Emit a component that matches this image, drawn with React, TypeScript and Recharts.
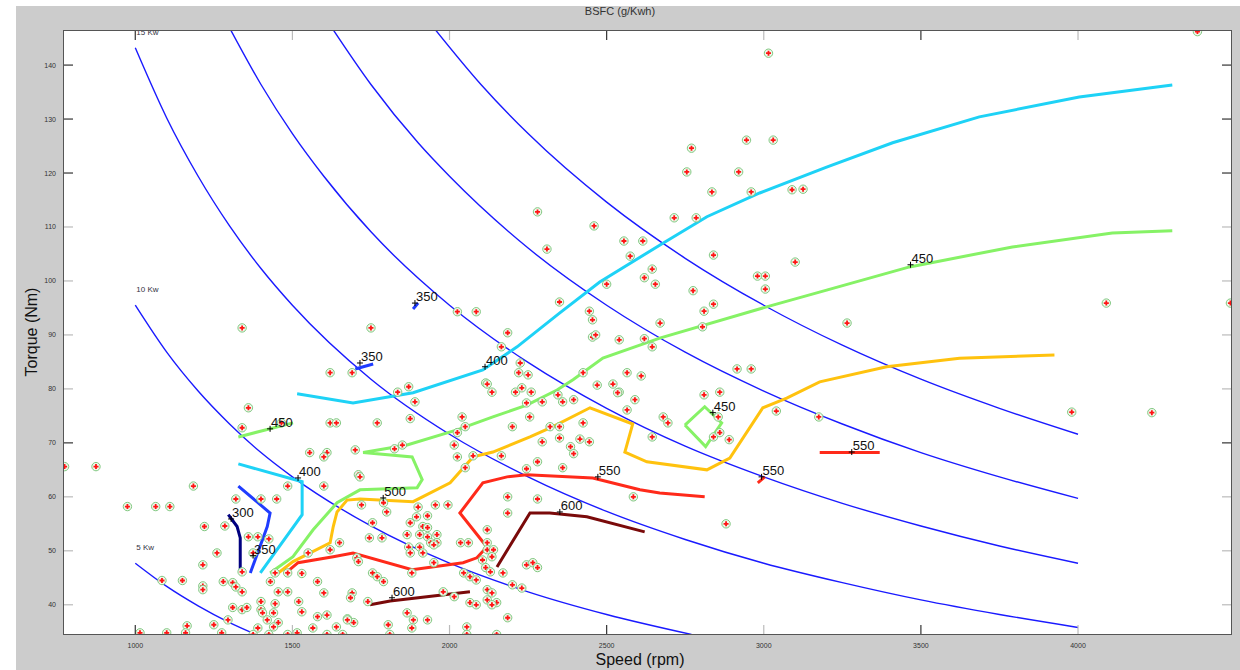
import React from 'react'
import { ComposedChart, Line, Scatter, XAxis, YAxis, ReferenceDot } from 'recharts'

type Pt = [number, number]

const rpmTicks = [1000, 1500, 2000, 2500, 3000, 3500, 4000]
const torqueTicks = [40, 50, 60, 70, 80, 90, 100, 110, 120, 130, 140]
const darkRpmTicks = [1000, 2500, 3500]
const darkTorqueTicks = [140, 130, 120, 70]

// constant power curves (rpm, Nm)
const kw5: Pt[] = [[1000, 47.7], [1100, 43.4], [1200, 39.8], [1300, 36.7], [1380, 34.6]]
const kw10: Pt[] = [[1000, 95.5], [1100, 86.8], [1200, 79.6], [1300, 73.5], [1400, 68.2], [1500, 63.7], [1750, 54.6], [2000, 47.7], [2250, 42.4], [2500, 38.2], [2770, 34.5]]
const kw15: Pt[] = [[1000, 143.2], [1100, 130.2], [1200, 119.4], [1300, 110.2], [1400, 102.3], [1500, 95.5], [1750, 81.8], [2000, 71.6], [2250, 63.7], [2500, 57.3], [2750, 52.1], [3000, 47.7], [3250, 44.1], [3500, 40.9], [3750, 38.2], [4000, 35.8]]
const kw20: Pt[] = [[1300, 146.9], [1400, 136.4], [1500, 127.3], [1600, 119.4], [1750, 109.1], [2000, 95.5], [2250, 84.9], [2500, 76.4], [2750, 69.4], [3000, 63.7], [3250, 58.8], [3500, 54.6], [3750, 50.9], [4000, 47.7]]
const kw25: Pt[] = [[1620, 147.4], [1750, 136.4], [1900, 125.6], [2000, 119.4], [2250, 106.1], [2500, 95.5], [2750, 86.8], [3000, 79.6], [3250, 73.5], [3500, 68.2], [3750, 63.7], [4000, 59.7]]
const kw30: Pt[] = [[1950, 146.9], [2100, 136.4], [2250, 127.3], [2500, 114.6], [2750, 104.2], [3000, 95.5], [3250, 88.1], [3500, 81.8], [3750, 76.4], [4000, 71.6]]

// BSFC contours
const bsfc300: Pt[] = [[1296, 56.7], [1324, 54.5], [1334, 52.4], [1334, 46.1]]
const bsfc350a: Pt[] = [[1328, 62.0], [1429, 57.0], [1420, 54.5], [1366, 45.9]]
const bsfc350b: Pt[] = [[1700, 83.7], [1757, 84.6]]
const bsfc350c: Pt[] = [[1884, 94.8], [1900, 95.9]]
const bsfc400a: Pt[] = [[1515, 79.1], [1693, 77.4], [1884, 79.3], [2106, 83.5], [2215, 87.8], [2351, 94.1], [2478, 99.8], [2679, 107.0], [2819, 111.9], [2987, 116.3], [3200, 121.1], [3410, 125.6], [3686, 130.4], [4004, 134.1], [4300, 136.3]]
const bsfc400b: Pt[] = [[1328, 66.1], [1531, 62.8], [1531, 56.7], [1398, 45.9]]
const bsfc450a: Pt[] = [[1429, 45.9], [1502, 48.9], [1566, 53.9], [1642, 58.9], [1715, 61.3], [1897, 61.7], [1913, 63.2], [1881, 67.4], [1725, 68.2], [1865, 69.6], [2024, 72.4], [2138, 74.8], [2246, 77.0], [2342, 79.8], [2393, 81.7], [2488, 85.7], [2669, 89.4], [3009, 95.2], [3200, 98.3], [3464, 102.6], [3791, 106.3], [4109, 108.9], [4300, 109.3]]
const bsfc450b: Pt[] = [[1328, 71.1], [1502, 73.7]]
const bsfc450c: Pt[] = [[2749, 73.3], [2812, 76.7], [2866, 73.7], [2815, 69.3], [2749, 73.3]]
const bsfc500: Pt[] = [[1455, 45.9], [1502, 48.0], [1620, 51.5], [1630, 54.5], [1642, 57.2], [1674, 59.4], [1715, 59.6], [1884, 59.1], [2002, 62.6], [2075, 67.4], [2138, 68.3], [2256, 71.1], [2329, 73.0], [2447, 76.5], [2583, 73.5], [2558, 68.3], [2628, 66.5], [2819, 65.0], [2892, 67.2], [2997, 76.5], [3073, 78.3], [3178, 81.3], [3391, 84.1], [3623, 85.7], [3925, 86.3]]
const bsfc550a: Pt[] = [[1483, 46.1], [1518, 47.8], [1630, 48.9], [1693, 49.6], [1881, 46.5], [2043, 47.8], [2087, 48.7], [2119, 50.7], [2033, 57.0], [2106, 62.6], [2183, 63.7], [2246, 64.1], [2456, 63.5], [2606, 61.3], [2669, 60.7], [2812, 60.0]]
const bsfc550b: Pt[] = [[2981, 62.6], [3003, 63.7]]
const bsfc550c: Pt[] = [[3178, 68.2], [3369, 68.2]]
const bsfc600a: Pt[] = [[2151, 47.0], [2256, 57.0], [2319, 57.0], [2437, 56.3], [2621, 53.5]]
const bsfc600b: Pt[] = [[1747, 40.0], [1811, 40.7], [2065, 42.4]]

const contourLabels: Array<[number, number, string]> = [
  [1305, 55.9, '300'], [1375, 49.1, '350'], [1518, 63.5, '400'], [1429, 72.6, '450'],
  [1715, 84.8, '350'], [1890, 95.9, '350'], [2113, 84.1, '400'], [1789, 59.8, '500'],
  [2472, 63.7, '550'], [2351, 57.2, '600'], [1817, 41.3, '600'], [2838, 75.6, '450'],
  [2993, 63.7, '550'], [3280, 68.3, '550'], [3467, 103.0, '450'],
]

const powerLabels: Array<[number, number, string]> = [
  [1000, 143.2, '15 Kw'], [1000, 95.5, '10 Kw'], [1000, 47.7, '5 Kw'],
]

// measured operating points (rpm, Nm)
const points: Pt[] = [
  [4380, 146.2], [3015, 142.2], [2770, 124.6], [2945, 126.1], [3030, 126.1], [2755, 120.2], [2920, 120.2], [2835, 116.5], [2960, 116.5], [3090, 116.9],
  [3125, 117.0], [2715, 111.7], [2785, 111.7], [2460, 110.2], [2555, 107.4], [2615, 107.4], [2575, 104.6], [2840, 104.8], [3100, 103.5], [2645, 102.2],
  [2620, 100.6], [2655, 99.4], [2500, 99.4], [2980, 100.9], [3005, 100.9], [3005, 98.5], [2775, 98.2], [2840, 95.7], [2810, 94.4], [2350, 96.1],
  [2445, 94.4], [2455, 92.8], [2670, 92.2], [2805, 91.5], [3265, 92.2], [2455, 89.6], [2540, 89.1], [2620, 89.3], [2645, 87.8], [2280, 112.8],
  [2310, 105.9], [2025, 94.3], [2085, 94.3], [1340, 91.3], [1750, 91.3], [2185, 90.4], [2465, 90.0], [2165, 87.8], [2225, 84.8], [1620, 83.0],
  [1690, 83.0], [2220, 83.0], [2250, 82.6], [2115, 81.1], [2135, 79.4], [2210, 79.4], [2230, 80.2], [2260, 79.4], [2345, 78.9], [2395, 78.0],
  [2360, 77.6], [2425, 83.0], [2470, 80.7], [1835, 79.4], [1870, 80.4], [1890, 77.6], [2245, 77.4], [2295, 77.6], [2040, 74.8], [2255, 74.8],
  [1875, 74.5], [2915, 83.7], [2960, 83.7], [2565, 83.0], [2610, 82.4], [2540, 79.4], [2590, 78.0], [2565, 76.1], [2680, 74.8], [2695, 73.7],
  [2645, 71.1], [2810, 78.9], [2860, 79.4], [2855, 74.8], [2840, 71.1], [2860, 71.9], [2890, 70.6], [3040, 75.9], [3175, 74.8], [2585, 60.0],
  [2880, 55.0], [3980, 75.7], [4235, 75.6], [4090, 95.9], [4485, 95.9],
  [1360, 76.5], [1340, 72.8], [1465, 73.7], [1620, 73.7], [1640, 73.7], [1555, 68.2], [1610, 68.2], [1600, 67.4], [1700, 68.7], [1485, 62.0],
  [1600, 62.0], [1710, 64.1], [775, 65.6], [875, 65.6], [1185, 62.0], [1320, 59.6], [1400, 59.6], [1450, 59.6], [975, 58.2], [1065, 58.2],
  [1110, 58.2], [1220, 54.5], [1285, 54.6], [1360, 52.6], [1390, 52.6], [1425, 52.2], [1260, 49.6], [1375, 49.6], [1650, 51.5], [1620, 50.2],
  [1550, 49.6], [1705, 48.7], [1215, 47.4], [1340, 46.1], [1445, 45.9], [1485, 45.9], [1530, 45.8], [1085, 44.5], [1150, 44.5], [1215, 43.5],
  [1215, 42.8], [1280, 44.3], [1310, 44.1], [1320, 43.3], [1340, 42.4], [1430, 44.3], [1455, 42.4], [1485, 42.4], [1580, 44.3], [1600, 42.2],
  [1690, 42.2], [1400, 40.6], [1310, 39.5], [1340, 39.1], [1355, 39.5], [1400, 39.1], [1445, 40.2], [1520, 40.6], [1295, 37.2], [1405, 38.5],
  [1420, 37.2], [1440, 38.5], [1455, 36.7], [1530, 38.7], [1580, 37.8], [1610, 38.1], [1675, 37.4], [1250, 36.3], [1165, 36.1], [1390, 35.7],
  [1440, 35.9], [1515, 34.8], [1565, 35.7], [1640, 35.9], [1695, 36.7], [1015, 34.8], [1100, 34.8], [1160, 34.8], [1275, 34.8], [1375, 34.5],
  [1425, 34.5], [1485, 34.5], [1610, 34.5], [1660, 34.5],
  [2120, 80.9], [2520, 80.9], [2535, 79.3], [1770, 73.7], [2050, 73.0], [2200, 73.0], [2320, 73.0], [2350, 73.0], [2425, 73.7], [2295, 70.2],
  [2350, 70.9], [2415, 70.7], [2445, 70.2], [2385, 69.3], [2395, 68.0], [1825, 68.9], [1850, 69.6], [2025, 71.9], [2015, 69.6], [2025, 67.4],
  [2075, 67.6], [2165, 67.6], [2280, 66.5], [2360, 65.4], [2245, 65.2], [2050, 65.4], [1715, 63.7], [2185, 60.0], [2280, 59.6], [1720, 58.5],
  [1790, 58.9], [1800, 57.2], [1900, 58.1], [1955, 58.5], [1995, 58.5], [2185, 57.0], [1755, 55.2], [1875, 55.2], [1895, 56.3], [1930, 56.5],
  [1915, 54.5], [1930, 54.3], [1865, 53.0], [1905, 53.0], [1930, 52.6], [1745, 52.4], [1785, 52.4], [1960, 53.0], [1960, 51.5], [1940, 51.5],
  [1870, 50.7], [1905, 50.7], [1950, 51.1], [1875, 49.6], [1915, 49.6], [1710, 48.0], [1950, 47.8], [2035, 51.5], [2060, 51.5], [2120, 53.9],
  [2120, 51.5], [2120, 50.2], [2140, 50.2], [2135, 48.9], [2105, 48.3], [2115, 46.9], [2130, 46.1], [2170, 45.9], [2045, 45.9], [2065, 45.2],
  [2085, 44.6], [2245, 47.4], [2265, 47.8], [2280, 46.9], [2200, 43.7], [2230, 43.1], [1755, 45.9], [1770, 45.2], [1790, 44.3], [1880, 45.9],
  [1685, 41.3], [1980, 42.4], [2015, 41.5], [2120, 42.8], [2135, 42.2], [2120, 40.9], [2150, 40.4], [2135, 40.0], [1740, 40.6], [2065, 40.4],
  [2085, 40.0], [1865, 38.5], [1885, 37.2], [1930, 37.2], [2185, 37.6], [1675, 37.2], [1805, 36.3], [1880, 35.7], [2055, 35.9], [1810, 34.5],
  [2055, 34.5], [2150, 34.5],
]

const PLOT = { left: 63, top: 30, right: 1232, bottom: 635 }

const rows = (pts: Pt[]) => pts.map(([rpm, torque]) => ({ rpm, torque }))

const powerCurves = [kw5, kw10, kw15, kw20, kw25, kw30]

const contours: Array<{ pts: Pt[]; color: string; width?: number }> = [
  { pts: bsfc300, color: '#000080' },
  { pts: bsfc350a, color: '#1f3cff' },
  { pts: bsfc350b, color: '#1f3cff' },
  { pts: bsfc350c, color: '#1f3cff' },
  { pts: bsfc400a, color: '#1ed2f6' },
  { pts: bsfc400b, color: '#1ed2f6' },
  { pts: bsfc450a, color: '#86f266' },
  { pts: bsfc450b, color: '#86f266' },
  { pts: bsfc450c, color: '#86f266' },
  { pts: bsfc500, color: '#ffc20e' },
  { pts: bsfc550a, color: '#ff2a1a' },
  { pts: bsfc550b, color: '#ff2a1a' },
  { pts: bsfc550c, color: '#ff2a1a' },
  { pts: bsfc600a, color: '#7a0a0a' },
  { pts: bsfc600b, color: '#7a0a0a' },
]

function XTick(props: any) {
  const { x, payload } = props
  const c = darkRpmTicks.includes(payload.value) ? '#333' : '#bbb'
  return (
    <g>
      <line x1={x} y1={PLOT.bottom} x2={x} y2={PLOT.bottom - 10} stroke={c} strokeWidth={1.2} />
      <line x1={x} y1={PLOT.top} x2={x} y2={PLOT.top + 10} stroke={c} strokeWidth={1.2} />
      <text x={x} y={648} textAnchor="middle" fontSize={7} fill="#333">{payload.value}</text>
    </g>
  )
}

function YTick(props: any) {
  const { y, payload } = props
  const c = darkTorqueTicks.includes(payload.value) ? '#333' : '#bbb'
  return (
    <g>
      <line x1={PLOT.left} y1={y} x2={PLOT.left + 10} y2={y} stroke={c} strokeWidth={1.2} />
      <line x1={PLOT.right} y1={y} x2={PLOT.right - 10} y2={y} stroke={c} strokeWidth={1.2} />
      <text x={56} y={y + 2.5} textAnchor="end" fontSize={7} fill="#333">{payload.value}</text>
    </g>
  )
}

function Marker(props: any) {
  const { cx, cy } = props
  if (cx == null || cy == null) return null
  return (
    <g>
      <circle cx={cx} cy={cy} r={4.2} fill="#eef8ea" stroke="#82c882" strokeWidth={1} />
      <path d={`M${cx - 2.5},${cy}h5M${cx},${cy - 2.5}v5`} stroke="#ff1414" strokeWidth={1.8} />
    </g>
  )
}

export default function App() {
  return (
    <div style={{ position: 'absolute', left: 0, top: 0, width: 1240, height: 670, background: '#fff', fontFamily: '"Liberation Sans", Arial, sans-serif', overflow: 'hidden' }}>
      <div style={{ position: 'absolute', left: 16, top: 6, width: 1224, height: 664, background: '#cccccc' }} />
      <div style={{ position: 'absolute', left: PLOT.left, top: PLOT.top, width: PLOT.right - PLOT.left, height: PLOT.bottom - PLOT.top, background: '#fff' }} />
      <div style={{ position: 'absolute', left: 0, width: 1240, top: 5, textAlign: 'center', fontSize: 11, color: '#333' }}>BSFC (g/Kwh)</div>
      <div style={{ position: 'absolute', left: 0, width: 1280, top: 651, textAlign: 'center', fontSize: 16, color: '#111' }}>Speed (rpm)</div>
      <div style={{ position: 'absolute', left: 32, top: 332, transform: 'translate(-50%, -50%) rotate(-90deg)', fontSize: 16, color: '#111', whiteSpace: 'nowrap' }}>Torque (Nm)</div>
      <div style={{ position: 'absolute', left: 0, top: 0 }}>
        <ComposedChart width={1240} height={670} margin={{ top: 30, right: 8, bottom: 15, left: 23 }}>
          <XAxis type="number" dataKey="rpm" domain={[770, 4490]} ticks={rpmTicks} allowDataOverflow axisLine={false} tickLine={false} height={20} tick={(p: any) => <XTick {...p} />} />
          <YAxis type="number" dataKey="torque" domain={[34.4, 146.5]} ticks={torqueTicks} allowDataOverflow axisLine={false} tickLine={false} width={40} tick={(p: any) => <YTick {...p} />} />
          {powerCurves.map((c, i) => (
            <Line key={'kw' + i} data={rows(c)} dataKey="torque" type="monotone" stroke="#1a1aff" strokeWidth={1.4} dot={false} activeDot={false} isAnimationActive={false} />
          ))}
          {contours.map((c, i) => (
            <Line key={'bsfc' + i} data={rows(c.pts)} dataKey="torque" type="linear" stroke={c.color} strokeWidth={c.width ?? 3} dot={false} activeDot={false} isAnimationActive={false} />
          ))}
          <Scatter data={rows(points)} dataKey="torque" shape={(p: any) => <Marker {...p} />} isAnimationActive={false} />
          {contourLabels.map(([rpm, torque, text], i) => (
            <ReferenceDot key={'cl' + i} x={rpm} y={torque} r={0} ifOverflow="visible"
              shape={(p: any) => (
                <g>
                  <path d={`M${p.cx - 3},${p.cy}h6M${p.cx},${p.cy - 3}v6`} stroke="#000" strokeWidth={1} />
                  <text x={p.cx + 1} y={p.cy - 2} fontSize={13} fill="#111">{text}</text>
                </g>
              )} />
          ))}
          {powerLabels.map(([rpm, torque, text], i) => (
            <ReferenceDot key={'pl' + i} x={rpm} y={torque} r={0} ifOverflow="visible"
              shape={(p: any) => <text x={p.cx + 1} y={p.cy - 13} fontSize={8} fill="#334">{text}</text>} />
          ))}
        </ComposedChart>
      </div>
      <div style={{ position: 'absolute', left: PLOT.left, top: PLOT.top, width: PLOT.right - PLOT.left, height: PLOT.bottom - PLOT.top, border: '1.5px solid #555', boxSizing: 'border-box', pointerEvents: 'none' }} />
    </div>
  )
}
